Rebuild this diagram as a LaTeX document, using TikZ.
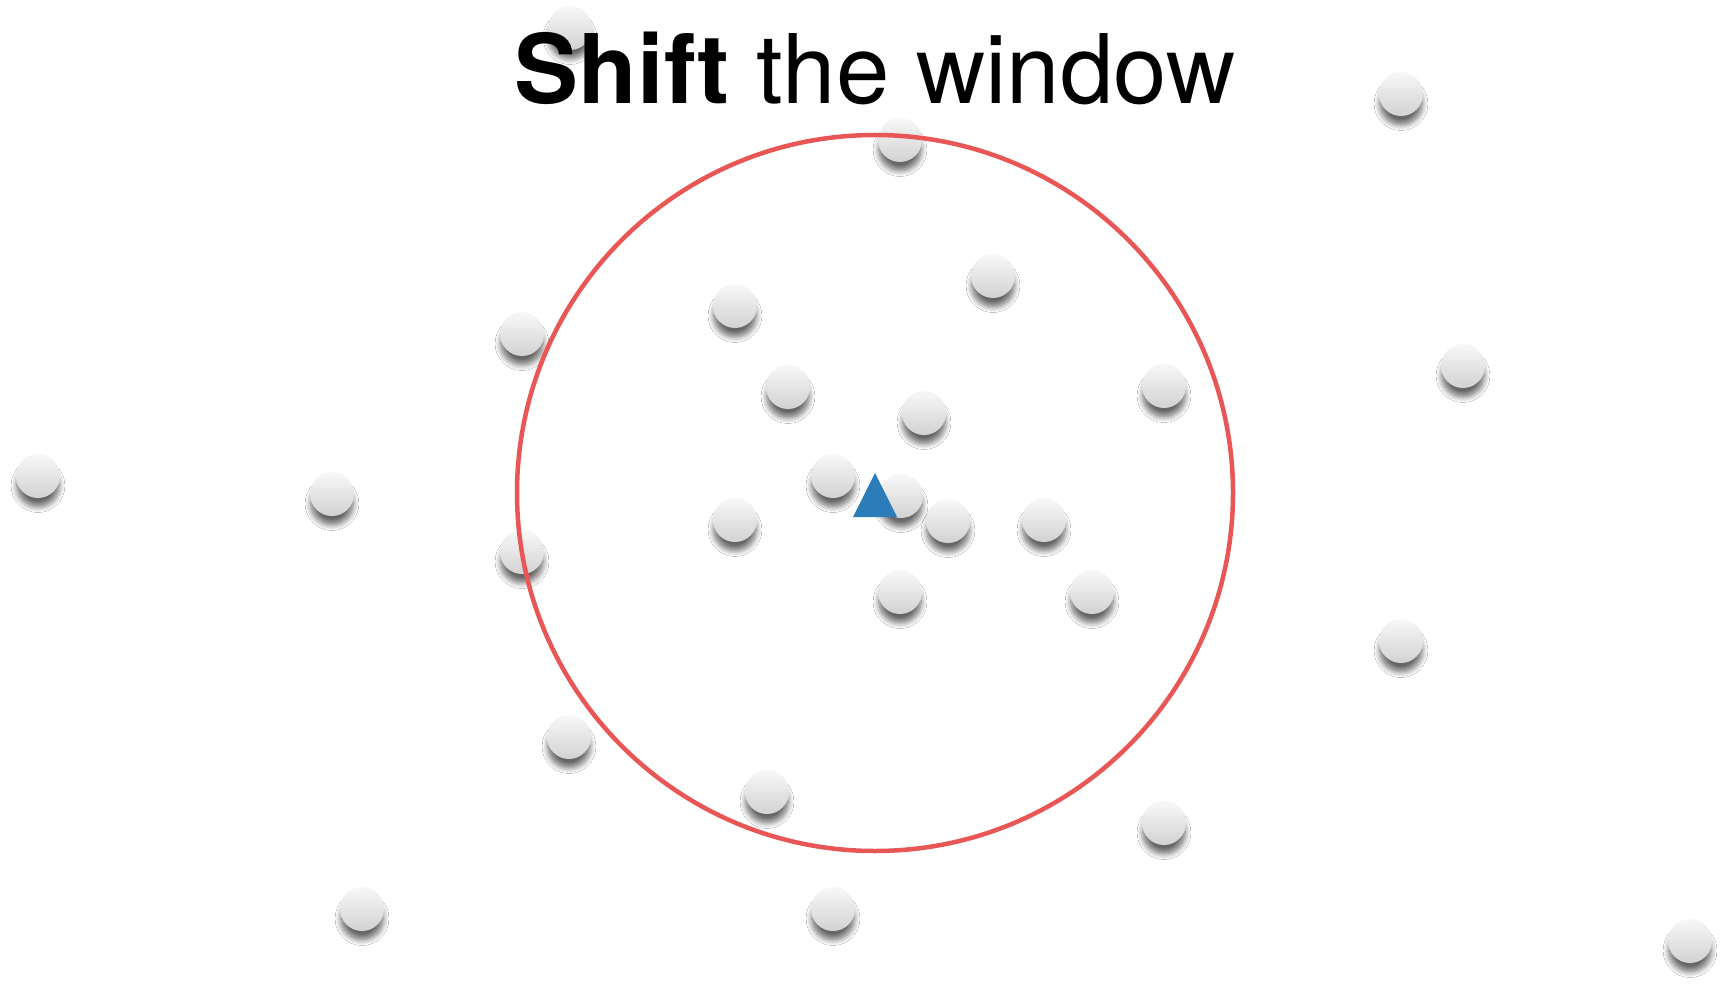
\documentclass[tikz,border=0pt]{standalone}
\usepackage{fontspec}
\setmainfont{TeX Gyre Heros}
\usetikzlibrary{shadows.blur}
\definecolor{ringred}{RGB}{232,86,86}
\definecolor{triblue}{RGB}{44,124,185}
\definecolor{balltop}{RGB}{248,248,248}
\definecolor{ballbot}{RGB}{210,210,210}
\tikzset{
  ball/.style={circle, minimum size=44pt, inner sep=0pt, draw=none,
    top color=balltop, bottom color=ballbot,
    blur shadow={shadow xshift=0pt, shadow yshift=-10pt, shadow blur radius=6pt, shadow opacity=60, shadow scale=0.96, shadow blur steps=8}},
  ring/.style={draw=ringred, line width=4.5pt},
  title/.style={font=\fontsize{96}{100}\selectfont, anchor=base, inner sep=0pt}
}
\begin{document}
\begin{tikzpicture}[x=1pt,y=-1pt]
\useasboundingbox (0,0) rectangle (1723,984);
\fill[white] (0,0) rectangle (1723,984);
% balls
\node[ball] (b1) at (570,28) {};
\node[ball] (b2) at (1401,94) {};
\node[ball] (b3) at (900,140) {};
\node[ball] (b4) at (993,276) {};
\node[ball] (b5) at (735,306) {};
\node[ball] (b6) at (522,334) {};
\node[ball] (b7) at (1463,366) {};
\node[ball] (b8) at (788,387) {};
\node[ball] (b9) at (1164,386) {};
\node[ball] (b10) at (924,413) {};
\node[ball] (b11) at (38,476) {};
\node[ball] (b12) at (332,494) {};
\node[ball] (b13) at (833,476) {};
\node[ball] (b14) at (901,496) {};
\node[ball] (b15) at (735,520) {};
\node[ball] (b16) at (948,521) {};
\node[ball] (b17) at (1044,520) {};
\node[ball] (b18) at (522,552) {};
\node[ball] (b19) at (900,592) {};
\node[ball] (b20) at (1092,592) {};
\node[ball] (b21) at (1401,641) {};
\node[ball] (b22) at (569,737) {};
\node[ball] (b23) at (767,792) {};
\node[ball] (b24) at (1164,823) {};
\node[ball] (b25) at (362,909) {};
\node[ball] (b26) at (833,909) {};
\node[ball] (b27) at (1690,941) {};
% triangle (window centre)
\coordinate (c) at (875,493);
\fill[triblue] (875,473) -- (897,517) -- (853,517) -- cycle;
% window
\draw[ring] (c) circle[radius=358];
% title
\node[title] (t) at (875,104) {\textbf{Shift} the window};
\end{tikzpicture}
\end{document}
